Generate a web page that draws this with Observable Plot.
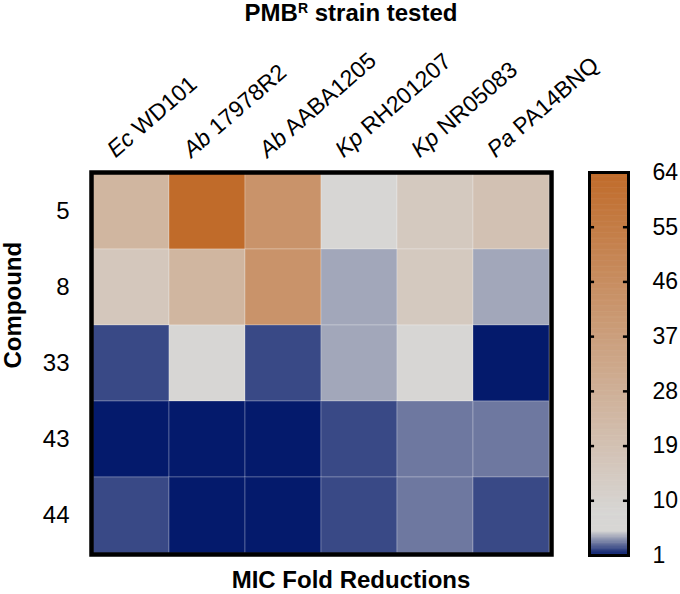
<!DOCTYPE html>
<html>
<head>
<meta charset="utf-8">
<script src="https://cdn.jsdelivr.net/npm/d3@7"></script>
<script src="https://cdn.jsdelivr.net/npm/@observablehq/plot@0.6"></script>
<style>
  html, body { margin: 0; padding: 0; overflow: hidden; background: #fff; }
  body { width: 680px; height: 594px; font-family: "Liberation Sans", Arial, Helvetica, sans-serif; color: #000; }
  svg { overflow: visible; }
  .ttl { width: 658px; padding-left: 22px; text-align: center; font-weight: bold; font-size: 24px; white-space: nowrap; }
  #title { height: 26px; line-height: 26px; position: relative; z-index: 1; }
  #title sup { font-size: 14px; vertical-align: baseline; position: relative; top: -8px; }
  #row { display: flex; height: 536px; }
  #caption { height: 32px; line-height: 36px; overflow: visible; }
</style>
</head>
<body>
<div id="title" class="ttl">PMB<sup>R</sup> strain tested</div>
<div id="row"><div id="main"></div><div id="bar"></div></div>
<div id="caption" class="ttl">MIC Fold Reductions</div>
<script>
// ---- data ----
const strains = ["Ec WD101", "Ab 17978R2", "Ab AABA1205", "Kp RH201207", "Kp NR05083", "Pa PA14BNQ"];
const compounds = ["5", "8", "33", "43", "44"];
const row5  = [25, 64, 43, 8, 15, 19];
const row8  = [16, 25, 43, 4, 15, 4];
const row33 = [2, 8, 2, 4, 8, 1];
const row43 = [1, 1, 1, 2, 3, 3];
const row44 = [2, 1, 1, 2, 3, 2];
const colorbarTicks = [1, 10, 19, 28, 37, 46, 55, 64];

const rows = [row5, row8, row33, row43, row44];
const table = compounds.flatMap((c, i) => strains.map((s, j) => ({compound: c, strain: s, value: rows[i][j]})));

const colorOpts = {
  type: "linear",
  domain: [1, 5, 8, 64],
  range: ["#041a6c", "#d7d6d4", "#d7d6d4", "#c06b2a"],
  interpolate: "rgb"
};
const font = "'Liberation Sans', Arial, Helvetica, sans-serif";

// ---- heatmap ----
const main = Plot.plot({
  width: 570,
  height: 536,
  marginLeft: 91,
  marginRight: 19,
  marginTop: 146,
  marginBottom: 8,
  style: {fontFamily: font, fontSize: "24px", color: "#000", background: "transparent", overflow: "visible"},
  x: {domain: strains, axis: null, padding: 0},
  y: {domain: compounds, padding: 0, tickSize: 0, tickPadding: 22, label: null},
  color: colorOpts,
  marks: [
    Plot.cell(table, {x: "strain", y: "compound", fill: "value", stroke: "white", strokeOpacity: 0.25, strokeWidth: 1}),
    Plot.frame({stroke: "#000", strokeWidth: 4.5}),
    Plot.text(strains, {x: d => d, text: d => d, frameAnchor: "top", rotate: -41, textAnchor: "start", lineAnchor: "bottom", dx: -16, dy: -14, fontSize: 23}),
    Plot.text(["Compound"], {text: d => d, frameAnchor: "left", rotate: -90, dx: -78, dy: 5, fontSize: 24, fontWeight: "bold"})
  ]
});

// italic species prefixes
const ns = "http://www.w3.org/2000/svg";
main.querySelectorAll("text").forEach(t => {
  if (strains.includes(t.textContent)) {
    const [pre, ...rest] = t.textContent.split(" ");
    t.textContent = "";
    const a = document.createElementNS(ns, "tspan");
    a.setAttribute("font-style", "italic");
    a.textContent = pre;
    const b = document.createElementNS(ns, "tspan");
    b.textContent = " " + rest.join(" ");
    t.appendChild(a);
    t.appendChild(b);
  }
});
document.getElementById("main").appendChild(main);

// ---- colour bar ----
const stops = d3.range(1, 64, 0.2);
const innerTicks = colorbarTicks.slice(1, -1);
const bar = Plot.plot({
  width: 110,
  height: 536,
  marginLeft: 19,
  marginRight: 52,
  marginTop: 146,
  marginBottom: 7,
  style: {fontFamily: font, fontSize: "23px", color: "#000", background: "transparent", overflow: "visible"},
  x: {domain: [0, 1], axis: null},
  y: {domain: [1, 64], ticks: colorbarTicks, tickSize: 0, tickPadding: 24, label: null, axis: "right", tickFormat: d => String(d)},
  color: colorOpts,
  marks: [
    Plot.rect(stops, {x1: 0, x2: 1, y1: d => d, y2: d => Math.min(64, d + 0.3), fill: d => d + 0.1}),
    Plot.ruleY(innerTicks, {y: d => d, x1: 0, x2: 0.13, stroke: "#000", strokeWidth: 2.5}),
    Plot.ruleY(innerTicks, {y: d => d, x1: 0.87, x2: 1, stroke: "#000", strokeWidth: 2.5}),
    Plot.frame({stroke: "#000", strokeWidth: 3})
  ]
});
document.getElementById("bar").appendChild(bar);
</script>
</body>
</html>
